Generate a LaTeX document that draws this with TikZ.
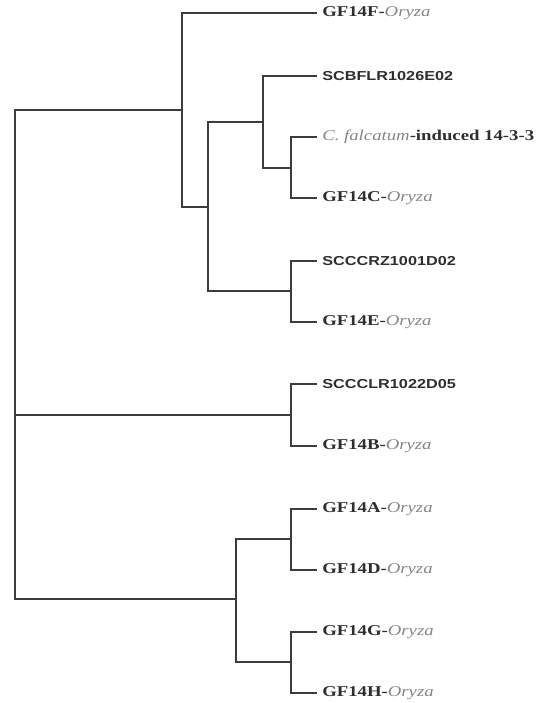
\documentclass[tikz,border=0pt]{standalone}
\usepackage{fontspec}
\setmainfont{Liberation Serif}
\setsansfont{Liberation Sans}
\usepackage{tikz}

\definecolor{treegray}{HTML}{3C3C3C}
\definecolor{boldgray}{HTML}{2E2E2E}
\definecolor{oryzagray}{HTML}{858585}
\newcommand{\gf}[1]{\textbf{GF14#1-}{\color{oryzagray}\textit{Oryza}}}
\newcommand{\clone}[1]{{\sffamily\bfseries\fontsize{13}{15}\selectfont #1}}

\begin{document}
\begin{tikzpicture}[x=1pt, y=-1pt,
		branch/.style={draw=treegray, line width=1.2pt},
		leaf/.style={anchor=west, inner xsep=4pt, inner ysep=0pt, xscale=1.25,
			font=\fontsize{15}{18}\selectfont, text=boldgray}]
		\useasboundingbox (0, 0) rectangle (541, 703);
		% inner nodes of the tree
		\coordinate (root) at (15, 415);
		\coordinate (nA) at (182, 110);
		\coordinate (nB) at (208, 207);
		\coordinate (nC) at (263, 122);
		\coordinate (nD) at (291, 168);
		\coordinate (nE) at (291, 291);
		\coordinate (nF) at (291, 415);
		\coordinate (nG) at (236, 599);
		\coordinate (nH) at (291, 539);
		\coordinate (nI) at (291, 662);
		% leaves
		\node[leaf] (gfF) at (317, 13) {\gf{F}};
		\node[leaf] (scb) at (317, 76) {\clone{SCBFLR1026E02}};
		\node[leaf] (cfal) at (317, 137) {{\color{oryzagray}\textit{C. falcatum}}\textbf{-induced 14-3-3}};
		\node[leaf] (gfC) at (317, 198) {\gf{C}};
		\node[leaf] (scz) at (317, 261) {\clone{SCCCRZ1001D02}};
		\node[leaf] (gfE) at (317, 322) {\gf{E}};
		\node[leaf] (scl) at (317, 384) {\clone{SCCCLR1022D05}};
		\node[leaf] (gfB) at (317, 446) {\gf{B}};
		\node[leaf] (gfA) at (317, 509) {\gf{A}};
		\node[leaf] (gfD) at (317, 570) {\gf{D}};
		\node[leaf] (gfG) at (317, 632) {\gf{G}};
		\node[leaf] (gfH) at (317, 693) {\gf{H}};
		% branches
		\draw[branch] (root) |- (nA);
		\draw[branch] (root) -- (nF);
		\draw[branch] (root) |- (nG);
		\draw[branch] (nA) |- (gfF.west);
		\draw[branch] (nA) |- (nB);
		\draw[branch] (nB) |- (nC);
		\draw[branch] (nB) |- (nE);
		\draw[branch] (nC) |- (scb.west);
		\draw[branch] (nC) |- (nD);
		\draw[branch] (nD) |- (cfal.west);
		\draw[branch] (nD) |- (gfC.west);
		\draw[branch] (nE) |- (scz.west);
		\draw[branch] (nE) |- (gfE.west);
		\draw[branch] (nF) |- (scl.west);
		\draw[branch] (nF) |- (gfB.west);
		\draw[branch] (nG) |- (nH);
		\draw[branch] (nG) |- (nI);
		\draw[branch] (nH) |- (gfA.west);
		\draw[branch] (nH) |- (gfD.west);
		\draw[branch] (nI) |- (gfG.west);
		\draw[branch] (nI) |- (gfH.west);
	\end{tikzpicture}
\end{document}
